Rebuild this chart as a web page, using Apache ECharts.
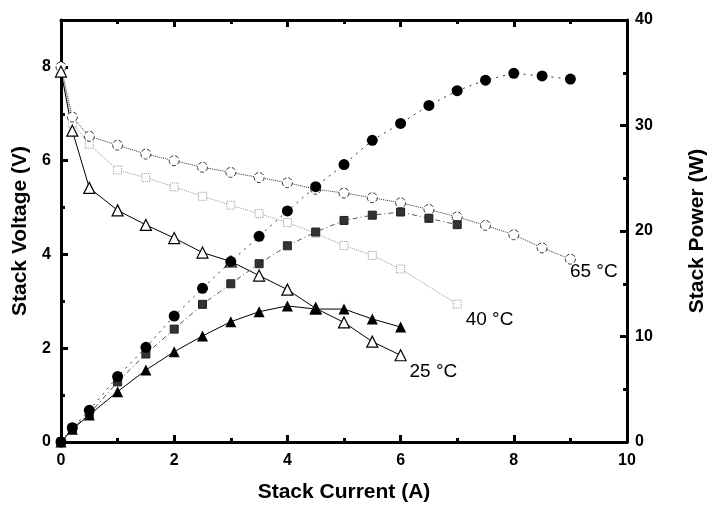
<!DOCTYPE html>
<html>
<head>
<meta charset="utf-8">
<script src="https://cdn.jsdelivr.net/npm/echarts@6/dist/echarts.min.js"></script>
<style>html,body{margin:0;padding:0;background:#fff;}#c{width:709px;height:506px;}</style>
</head>
<body>
<div id="c"></div>
<script>
// Stack current (A)
var I65 = [0,0.2,0.5,1,1.5,2,2.5,3,3.5,4,4.5,5,5.5,6,6.5,7,7.5,8,8.5,9];
var V65 = [8.0,6.93,6.52,6.33,6.14,6.0,5.86,5.75,5.64,5.53,5.39,5.31,5.21,5.1,4.96,4.8,4.62,4.42,4.14,3.9];
var P65 = [0,1.35,3.0,6.2,8.97,11.94,14.57,17.1,19.5,21.9,24.2,26.3,28.6,30.2,31.9,33.3,34.3,34.95,34.7,34.4];

var I40V = [0,0.2,0.5,1,1.5,2,2.5,3,3.5,4,4.5,5,5.5,6,7];
var V40 = [7.95,6.8,6.35,5.8,5.64,5.44,5.24,5.05,4.87,4.68,4.45,4.19,3.98,3.69,2.94];
var I40P = [0,0.2,0.5,1,1.5,2,2.5,3,3.5,4,4.5,5,5.5,6,6.5,7];
var P40 = [0,1.3,2.65,5.7,8.34,10.7,13.05,15.0,16.9,18.6,19.9,21.0,21.5,21.8,21.2,20.6];

var I25 = [0,0.2,0.5,1,1.5,2,2.5,3,3.5,4,4.5,5,5.5,6];
var V25 = [7.9,6.64,5.42,4.94,4.63,4.35,4.04,3.85,3.55,3.25,2.85,2.55,2.14,1.85];
var P25 = [0,1.2,2.56,4.77,6.82,8.56,10.05,11.4,12.35,12.9,12.6,12.6,11.66,10.9];

var xTicks = [0,2,4,6,8,10];
var vTicks = [0,2,4,6,8];
var pTicks = [0,10,20,30,40];
var tempLabels = ['65 \u00B0C','40 \u00B0C','25 \u00B0C'];

function pairs(xs, ys, lastLabel, pos) {
  return xs.map(function (x, i) {
    var d = {value: [x, ys[i]]};
    if (lastLabel && i === xs.length - 1) {
      d.label = {show: true, formatter: lastLabel, position: pos,
        fontFamily: 'Liberation Sans, Arial, sans-serif', fontSize: 19, color: '#000'};
    }
    return d;
  });
}

var font = 'Liberation Sans, Arial, sans-serif';
var chart = echarts.init(document.getElementById('c'), null, {renderer: 'canvas'});
var axisLine = {show: true, onZero: false, lineStyle: {color: '#000', width: 3}};
var majorTick = {show: true, inside: true, length: 7, lineStyle: {color: '#000', width: 3}};
var minorTick = {show: true, splitNumber: 2, length: 4, lineStyle: {color: '#000', width: 3}};
var tickFont = {fontFamily: font, fontWeight: 'bold', fontSize: 16, color: '#000'};
var titleFont = {fontFamily: font, fontWeight: 'bold', fontSize: 21, color: '#000'};
chart.setOption({
  animation: false,
  backgroundColor: '#fff',
  grid: {left: 61, right: 82, top: 20, bottom: 64, containLabel: false, outerBoundsMode: 'none'},
  xAxis: [{
    type: 'value', position: 'bottom', min: xTicks[0], max: xTicks[xTicks.length-1], interval: 2,
    name: 'Stack Current (A)', nameLocation: 'middle', nameGap: 40,
    nameTextStyle: titleFont,
    axisLine: axisLine, axisTick: majorTick, minorTick: minorTick,
    axisLabel: Object.assign({margin: 11}, tickFont),
    splitLine: {show: false}
  }, {
    type: 'value', position: 'top', min: xTicks[0], max: xTicks[xTicks.length-1], interval: 2,
    axisLine: axisLine, axisTick: majorTick, minorTick: minorTick,
    axisLabel: {show: false}, splitLine: {show: false}
  }],
  yAxis: [{
    type: 'value', position: 'left', min: 0, max: 9, interval: 2,
    name: 'Stack Voltage (V)', nameLocation: 'middle', nameGap: 28, nameRotate: 90,
    nameTextStyle: titleFont,
    axisLine: axisLine, axisTick: majorTick,
    axisLabel: Object.assign({margin: 10,
      formatter: function (v) { return vTicks.indexOf(v) >= 0 ? String(v) : ''; }}, tickFont),
    splitLine: {show: false}
  }, {
    type: 'value', position: 'right', min: pTicks[0], max: pTicks[pTicks.length-1], interval: 10,
    name: 'Stack Power (W)', nameLocation: 'middle', nameGap: 60, nameRotate: 90,
    nameTextStyle: titleFont,
    axisLine: axisLine, axisTick: majorTick, minorTick: minorTick,
    axisLabel: Object.assign({margin: 8}, tickFont),
    splitLine: {show: false}
  }, {
    type: 'value', position: 'left', min: 0, max: 9, interval: 1,
    axisLine: {show: false, onZero: false},
    axisTick: {show: true, inside: true, length: 4, lineStyle: {color: '#000', width: 3}},
    axisLabel: {show: false}, splitLine: {show: false}
  }],
  series: [
    {type: 'line', yAxisIndex: 0, data: pairs(I40V, V40, tempLabels[1], [13, 11]),
     symbol: 'rect', symbolSize: 8, showAllSymbol: true,
     itemStyle: {color: '#fff', borderColor: '#999', borderWidth: 1, borderType: 'dotted'},
     lineStyle: {color: '#999', width: 1, type: 'dotted'}},
    {type: 'line', yAxisIndex: 0, data: pairs(I65, V65, tempLabels[0], [5, 9]),
     symbol: 'circle', symbolSize: 10, showAllSymbol: true,
     itemStyle: {color: '#fff', borderColor: '#333', borderWidth: 1, borderType: 'dashed'},
     lineStyle: {color: '#333', width: 1, type: 'dotted'}},
    {type: 'line', yAxisIndex: 0, data: pairs(I25, V25, tempLabels[2], [15, 13]),
     symbol: 'triangle', symbolSize: 11, showAllSymbol: true,
     itemStyle: {color: '#fff', borderColor: '#000', borderWidth: 1.2},
     lineStyle: {color: '#000', width: 1, type: 'solid'}},
    {type: 'line', yAxisIndex: 1, data: pairs(I40P, P40),
     symbol: 'rect', symbolSize: 8, showAllSymbol: true,
     itemStyle: {color: '#333', borderColor: '#222', borderWidth: 1},
     lineStyle: {color: '#555', width: 1, type: [5, 3, 1, 3]}},
    {type: 'line', yAxisIndex: 1, data: pairs(I65, P65),
     symbol: 'circle', symbolSize: 11, showAllSymbol: true,
     itemStyle: {color: '#000'},
     lineStyle: {color: '#333', width: 1, type: [2, 5]}},
    {type: 'line', yAxisIndex: 1, data: pairs(I25, P25),
     symbol: 'triangle', symbolSize: 11, showAllSymbol: true,
     itemStyle: {color: '#000'},
     lineStyle: {color: '#000', width: 1, type: 'solid'}}
  ]
});
</script>
</body>
</html>
